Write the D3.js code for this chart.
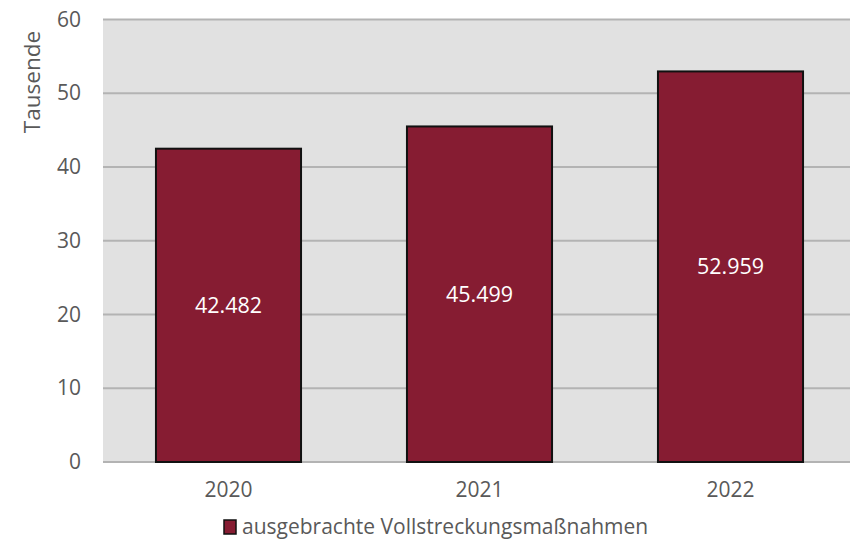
<!DOCTYPE html>
<html>
<head>
<meta charset="utf-8">
<script src="https://cdn.jsdelivr.net/npm/d3@7"></script>
<style>
  body { margin: 0; background: #fff; }
  text { font-family: "Open Sans", "Noto Sans", sans-serif; }
</style>
</head>
<body>
<svg id="chart"></svg>
<script>
let years = ['2020', '2021', '2022'];
let values = [42.482, 45.499, 52.959];
let valueLabels = ['42.482', '45.499', '52.959'];
let yTicks = [0, 10, 20, 30, 40, 50, 60];
let seriesName = 'ausgebrachte Vollstreckungsmaßnahmen';
let yTitle = 'Tausende';

//config
let width = 850;
let height = 546;
let margin = { top: 19.5, bottom: 84, left: 103, right: -6 };
let bodyWidth = width - margin.left - margin.right;
let bodyHeight = height - margin.top - margin.bottom;

let svg = d3.select('#chart')
    .attr('width', width)
    .attr('height', height);

//scales
let xScale = d3.scaleBand()
    .domain(years)
    .range([0, bodyWidth])
    .paddingInner(0.422)
    .paddingOuter(0.211);

let yScale = d3.scaleLinear()
    .domain([0, 60])
    .range([bodyHeight, 0]);

let body = svg.append('g')
    .attr('transform', `translate(${margin.left},${margin.top})`);

//background
body.append('rect')
    .attr('x', 0).attr('y', 0)
    .attr('width', bodyWidth).attr('height', bodyHeight)
    .attr('fill', '#e1e1e1');

//gridlines
body.selectAll('.grid')
    .data(yTicks)
    .enter().append('line')
    .attr('x1', 0).attr('x2', bodyWidth)
    .attr('y1', d => yScale(d)).attr('y2', d => yScale(d))
    .attr('stroke', '#b3b3b3')
    .attr('stroke-width', 2);

//y axis labels
let axisY = d3.axisLeft(yScale).tickValues(yTicks).tickSize(0).tickPadding(22);
let gy = body.append('g').call(axisY);
gy.select('.domain').remove();
gy.selectAll('text')
    .attr('fill', '#595959')
    .style('font-size', '21px')
    .style('font-family', '"Open Sans", "Noto Sans", sans-serif');

//x axis labels
let axisX = d3.axisBottom(xScale).tickSize(0).tickPadding(20);
let gx = body.append('g')
    .attr('transform', `translate(0,${bodyHeight})`)
    .call(axisX);
gx.select('.domain').remove();
gx.selectAll('text')
    .attr('fill', '#595959')
    .style('font-size', '21px')
    .style('font-family', '"Open Sans", "Noto Sans", sans-serif');

//bars
body.selectAll('.bar')
    .data(values)
    .enter().append('rect')
    .attr('x', (d, i) => xScale(years[i]))
    .attr('y', d => yScale(d))
    .attr('width', xScale.bandwidth())
    .attr('height', d => yScale(0) - yScale(d))
    .attr('fill', '#861c32')
    .attr('stroke', '#111')
    .attr('stroke-width', 2);

//value labels
body.selectAll('.val')
    .data(values)
    .enter().append('text')
    .attr('x', (d, i) => xScale(years[i]) + xScale.bandwidth() / 2)
    .attr('y', d => (yScale(d) + yScale(0)) / 2)
    .attr('dy', '0.35em')
    .attr('text-anchor', 'middle')
    .attr('fill', '#fff')
    .style('font-size', '21.5px')
    .text((d, i) => valueLabels[i]);

//y title
svg.append('text')
    .attr('transform', `translate(40,82) rotate(-90)`)
    .attr('text-anchor', 'middle')
    .attr('fill', '#595959')
    .style('font-size', '22.5px')
    .text(yTitle);

//legend
let legend = svg.append('g').attr('transform', 'translate(224,520)');
legend.append('rect')
    .attr('x', 0).attr('y', 0)
    .attr('width', 12).attr('height', 14)
    .attr('fill', '#861c32')
    .attr('stroke', '#111')
    .attr('stroke-width', 1.5);
legend.append('text')
    .attr('x', 18).attr('y', 7)
    .attr('dy', '0.35em')
    .attr('fill', '#595959')
    .style('font-size', '21px')
    .text(seriesName);
</script>
</body>
</html>
